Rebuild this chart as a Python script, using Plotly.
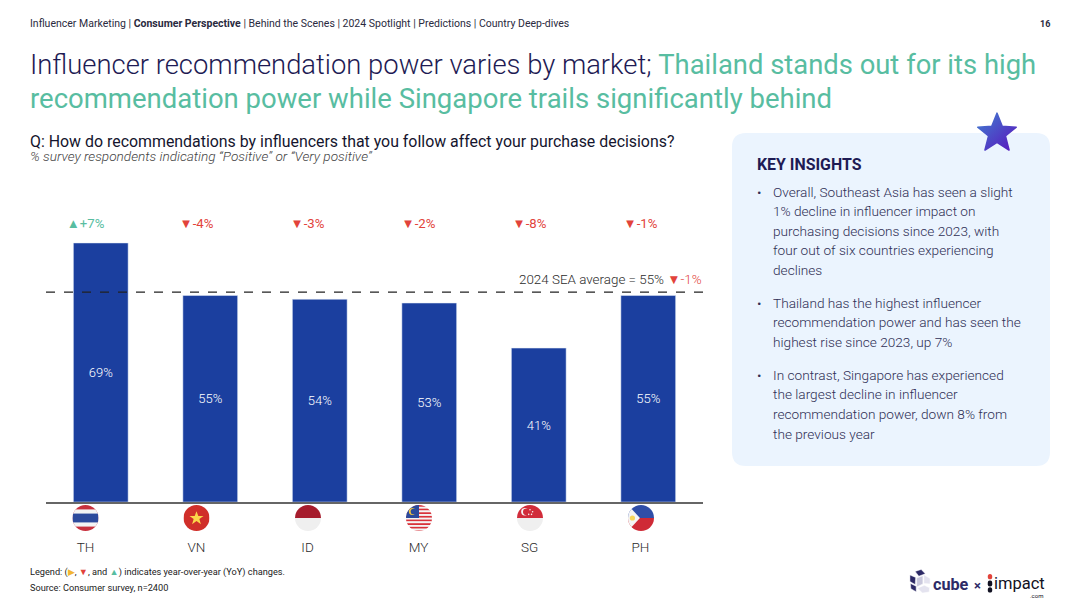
import base64
import plotly.graph_objects as go

W, H = 1080, 607
FONT = "Roboto"
NAVY = "#1e1b54"
TEAL = "#58bda1"
RED = "#e2433b"
BLUE = "#1b3f9f"

# chart values
countries = ["TH", "VN", "ID", "MY", "SG", "PH"]
scores = [69, 55, 54, 53, 41, 55]
yoy = [7, -4, -3, -2, -8, -1]
sea_line = 55.9   # drawn a little above the 55 bars in the original
nav_items = ["Influencer Marketing", "<b>Consumer Perspective</b>", "Behind the Scenes",
             "2024 Spotlight", "Predictions", "Country Deep-dives"]
insights = [
    (192, "•"), (192, "Overall, Southeast Asia has seen a slight"),
    (211, "1% decline in influencer impact on"),
    (231, "purchasing decisions since 2023, with"),
    (250, "four out of six countries experiencing"),
    (270, "declines"),
    (303, "•"), (303, "Thailand has the highest influencer"),
    (322, "recommendation power and has seen the"),
    (342, "highest rise since 2023, up 7%"),
    (375, "•"), (375, "In contrast, Singapore has experienced"),
    (394, "the largest decline in influencer"),
    (414, "recommendation power, down 8% from"),
    (434, "the previous year"),
]

def px(x):
    return x / W

def py(y):
    return 1 - y / H

def svg_uri(body):
    svg = f'<svg xmlns="http://www.w3.org/2000/svg" width="100" height="100" viewBox="0 0 100 100">{body}</svg>'
    return "data:image/svg+xml;base64," + base64.b64encode(svg.encode()).decode()

def stripes(*bands):
    parts = '<clipPath id="c"><circle cx="50" cy="50" r="50"/></clipPath><g clip-path="url(#c)">'
    for y, h, col in bands:
        parts += f'<rect x="0" y="{y}" width="100" height="{h}" fill="{col}"/>'
    return parts

my_rows = "".join(
    f'<rect x="0" y="{y}" width="100" height="7.2" fill="{"#d8323a" if i % 2 == 0 else "#f4f4f4"}"/>'
    for i, y in enumerate(range(0, 100, 7)))

flags = {
    "TH": stripes((0, 100, "#c8313e"), (17, 66, "#f4f4f4"), (33, 34, "#2d4a9c")) + "</g>",
    "VN": stripes((0, 100, "#d02f2a")) +
          '<polygon points="50,24 57,42 77,42 61,54 67,74 50,62 33,74 39,54 23,42 43,42" fill="#fbd64a"/></g>',
    "ID": stripes((0, 50, "#a61c2c"), (50, 50, "#efefef")) + "</g>",
    "MY": stripes() + my_rows + '<rect x="0" y="0" width="50" height="50" fill="#2c4a9c"/>'
          '<circle cx="24" cy="25" r="13" fill="#f4c63d"/><circle cx="29" cy="25" r="11" fill="#2c4a9c"/></g>',
    "SG": stripes((0, 50, "#d12c3a"), (50, 50, "#efefef")) +
          '<circle cx="30" cy="26" r="14" fill="#f4f4f4"/><circle cx="36" cy="26" r="13" fill="#d12c3a"/>'
          '<circle cx="50" cy="18" r="3" fill="#f4f4f4"/><circle cx="60" cy="26" r="3" fill="#f4f4f4"/>'
          '<circle cx="45" cy="36" r="3" fill="#f4f4f4"/><circle cx="56" cy="36" r="3" fill="#f4f4f4"/></g>',
    "PH": stripes((0, 50, "#2f4ea8"), (50, 50, "#cf2a36")) +
          '<polygon points="0,0 46,50 0,100" fill="#f4f4f4"/><circle cx="17" cy="50" r="10" fill="#f6d65a"/></g>',
}
flag_x = [85.5, 196.5, 308, 419, 530, 641]

star = ('<defs><linearGradient id="g" x1="0" y1="0" x2="1" y2="1"><stop offset="0" stop-color="#3f7fd0"/>'
        '<stop offset="1" stop-color="#5a14bd"/></linearGradient></defs>'
        '<polygon points="50,3 63,36 98,38 71,60 80,95 50,76 20,95 29,60 2,38 37,36" fill="url(#g)" '
        'stroke="url(#g)" stroke-width="4" stroke-linejoin="round"/>')

cube = ('<g stroke="#ffffff" stroke-width="2"><polygon points="30,10 55,2 72,20 45,30" fill="#2d2a66"/>'
        '<polygon points="8,25 32,35 30,65 8,52" fill="#2d2a66"/>'
        '<polygon points="36,38 62,28 62,62 36,75" fill="#c9c8dc"/>'
        '<polygon points="10,60 34,72 34,95 12,82" fill="#2d2a66"/>'
        '<polygon points="40,80 68,68 90,78 88,96 60,100" fill="#e4e3ef"/>'
        '<polygon points="66,24 92,40 92,62 66,60" fill="#e4e3ef"/></g>')

fig = go.Figure()

fig.add_trace(go.Bar(
    x=countries, y=scores,
    marker_color=BLUE,
    text=[f"{v}%" for v in scores],
    textposition="inside", insidetextanchor="middle", textangle=0,
    textfont=dict(color="white", size=13, family=FONT, weight=300),
    hoverinfo="x+y", showlegend=False,
))

# change labels sit on their own axis, the flags and codes are spaced wider than the bars
fig.add_trace(go.Scatter(
    x=countries, y=[73.8] * len(countries), xaxis="x2", mode="text",
    text=[("▲+" if v > 0 else "▼") + f"{v}%" for v in yoy],
    textfont=dict(size=13.2, family=FONT, color=[TEAL if v > 0 else RED for v in yoy]),
    hoverinfo="skip", showlegend=False,
))

shapes = [
    # insights panel
    dict(type="path", xref="paper", yref="paper", layer="below", line_width=0, fillcolor="#ebf4fe",
         path=(f"M {px(746)} {py(133)} L {px(1036)} {py(133)} Q {px(1050)} {py(133)} {px(1050)} {py(147)} "
               f"L {px(1050)} {py(452)} Q {px(1050)} {py(466)} {px(1036)} {py(466)} "
               f"L {px(746)} {py(466)} Q {px(732)} {py(466)} {px(732)} {py(452)} "
               f"L {px(732)} {py(147)} Q {px(732)} {py(133)} {px(746)} {py(133)} Z")),
    # SEA average line
    dict(type="line", xref="paper", yref="y", x0=px(46), x1=px(703), y0=sea_line, y1=sea_line,
         line=dict(color="#222222", width=1.3, dash="dash")),
]

annotations = []

def note(x, y, text, size, color="#333333", anchor="left", weight=None, **kw):
    font = dict(family=FONT, size=size, color=color)
    if weight:
        font["weight"] = weight
    # annotations sit about 1px inside their anchor
    x = x - 1 if anchor == "left" else x + 1
    annotations.append(dict(
        xref="paper", yref="paper", x=px(x), y=py(y), text=text, showarrow=False,
        xanchor=anchor, yanchor="middle", align=anchor, borderpad=0, font=font, **kw))

note(30, 23, " | ".join(nav_items), 10.5, "#2a2a40")
note(1050, 24, "<b>16</b>", 9, "#2a2a40", anchor="right")
note(30, 65, f'Influencer recommendation power varies by market; <span style="color:{TEAL};font-weight:400">Thailand stands out for its high</span>', 27.4, NAVY, weight=300)
note(30, 98, "recommendation power while Singapore trails significantly behind", 27.5, TEAL)
note(30, 141, "Q: How do recommendations by influencers that you follow affect your purchase decisions?", 15.9, "#15152e")
note(30, 156, "<i>% survey respondents indicating “Positive” or “Very positive”</i>", 13.6, "#444444", weight=300)
note(702, 279, f'2024 SEA average = 55% <span style="color:{RED}">▼-1%</span>', 13.4, "#2b2b2b", anchor="right", weight=300)
note(757, 164, "<b>KEY INSIGHTS</b>", 15.9, NAVY)
for y, line in insights:
    note(757 if line == "•" else 772.5, y, line, 13.65, "#2f2f55", weight=300)
note(30, 572, f'Legend: (<span style="color:#f2b632">▶</span>, <span style="color:{RED}">▼</span>, and '
     f'<span style="color:{TEAL}">▲</span>) indicates year-over-year (YoY) changes.', 9.2, "#222222")
note(30, 587, "Source: Consumer survey, n=2400", 9.2, "#222222")
note(933, 584, "<b>cube</b>", 16.2, "#2d2a66")
note(974, 585, "<b>×</b>", 13, "#2d2a66")
note(994, 583, "impact", 16.5, "#111122")
note(1043, 595, ".com", 6, "#111122", anchor="right")

images = [
    dict(source=svg_uri(star), xref="paper", yref="paper", x=px(977), y=py(112), sizex=px(40), sizey=40 / H,
         xanchor="left", yanchor="top", sizing="stretch", layer="above"),
    dict(source=svg_uri(cube), xref="paper", yref="paper", x=px(908), y=py(569), sizex=px(24), sizey=24 / H,
         xanchor="left", yanchor="top", sizing="stretch", layer="above"),
    dict(source=svg_uri('<circle cx="50" cy="14" r="14" fill="#e2433b"/><rect x="36" y="34" width="28" height="32" rx="12" fill="#111122"/>'
                        '<circle cx="50" cy="84" r="14" fill="#111122"/>'),
         xref="paper", yref="paper", x=px(982), y=py(574), sizex=px(16), sizey=19 / H,
         xanchor="left", yanchor="top", sizing="stretch", layer="above"),
]
for code, cx in zip(countries, flag_x):
    images.append(dict(source=svg_uri(flags[code]), xref="paper", yref="paper",
                       x=px(cx - 13), y=py(505), sizex=px(26), sizey=26 / H,
                       xanchor="left", yanchor="top", sizing="stretch", layer="above"))

fig.update_layout(
    width=W, height=H, autosize=False,
    margin=dict(l=0, r=0, t=0, b=0),
    paper_bgcolor="white", plot_bgcolor="rgba(0,0,0,0)",
    bargap=0.5, showlegend=False,
    font=dict(family=FONT),
    shapes=shapes, annotations=annotations, images=images,
    xaxis=dict(domain=[px(46), px(703)], categoryorder="array", categoryarray=countries,
               range=[-0.5, 5.5], showticklabels=False, ticks="", showgrid=False,
               showline=True, linecolor="#666666", linewidth=1.5, zeroline=False),
    xaxis2=dict(domain=[px(30), px(696)], anchor="y", side="bottom",
                categoryorder="array", categoryarray=countries, range=[-0.5, 5.5],
                ticks="outside", ticklen=33, tickcolor="rgba(0,0,0,0)", showgrid=False, showline=False,
                tickfont=dict(family=FONT, size=13.5, color="#2b2b2b", weight=300), zeroline=False),
    yaxis=dict(domain=[py(502), py(200)], range=[0, 302 / 3.754], visible=False),
)

# page margin would push the figure off the window
fig.write_html("out.html", config={"displayModeBar": False},
               post_script="document.body.style.margin='0';document.body.style.overflow='hidden';")
